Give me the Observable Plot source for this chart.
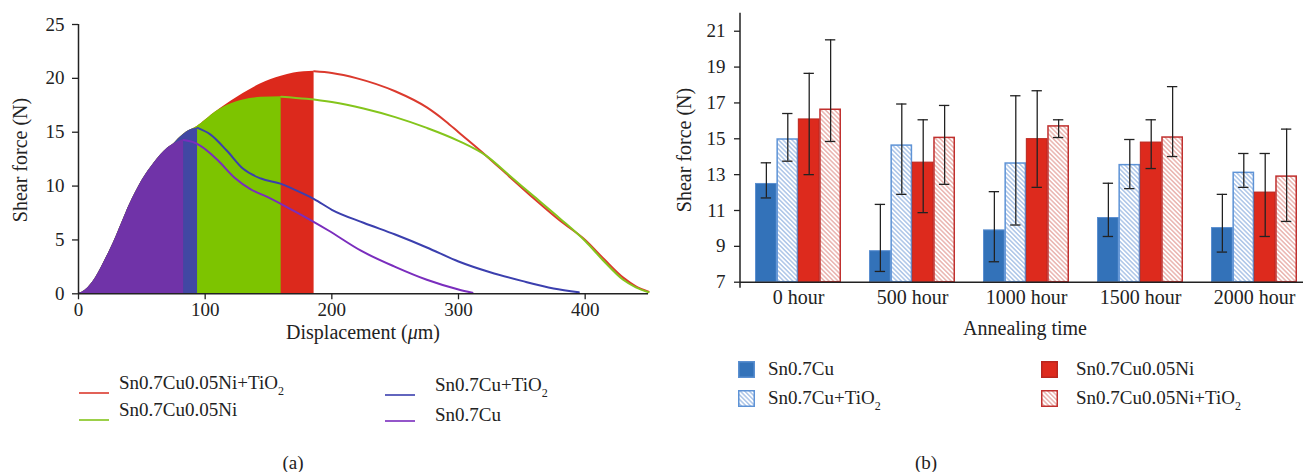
<!DOCTYPE html>
<html><head><meta charset="utf-8">
<script src="https://cdn.jsdelivr.net/npm/d3@7"></script>
<script src="https://cdn.jsdelivr.net/npm/@observablehq/plot@0.6"></script>
<style>
html,body{margin:0;padding:0;background:#fff;width:1303px;height:472px;overflow:hidden;position:relative;font-family:"Liberation Serif","DejaVu Serif",serif;color:#222}
#pa{position:absolute;left:0;top:0}
#pb{position:absolute;left:660px;top:0;width:651px}
.t{position:absolute;white-space:nowrap;font-size:19px;line-height:19px}
.t sub{font-size:12px;vertical-align:-6px;line-height:0}
.big{font-size:20px;line-height:20px}
.rot{transform:translate(-50%,-50%) rotate(-90deg)}
.ctr{transform:translate(-50%,-50%)}
.sw{position:absolute}
</style></head>
<body>
<svg width="0" height="0" style="position:absolute">
  <defs>
    <pattern id="hb" patternUnits="userSpaceOnUse" width="3.2" height="3.2" patternTransform="rotate(-45)">
      <rect width="3.2" height="3.2" fill="#fff"/>
      <line x1="0.8" y1="0" x2="0.8" y2="3.2" stroke="#8fb1df" stroke-width="1.1"/>
    </pattern>
    <pattern id="hr" patternUnits="userSpaceOnUse" width="3.2" height="3.2" patternTransform="rotate(-45)">
      <rect width="3.2" height="3.2" fill="#fff"/>
      <line x1="0.8" y1="0" x2="0.8" y2="3.2" stroke="#e39a94" stroke-width="1.1"/>
    </pattern>
  </defs>
</svg>
<div id="pa"></div>
<div id="pb"></div>
<script>
// ---------- Panel (a): shear force vs displacement ----------
const riseX = [0, 5, 10, 15, 20, 25, 30, 35, 40, 45, 50, 55, 60, 65, 70, 75];
const riseY = [0, 0.3, 0.9, 1.8, 2.9, 4.1, 5.4, 6.8, 8.2, 9.4, 10.5, 11.4, 12.2, 12.9, 13.5, 13.9];

const cuX = [...riseX, 79, 83, 90, 96, 110, 123, 136, 149, 170, 197, 223, 250, 275, 300, 311];
const cuY = [...riseY, 14.15, 14.28, 14.1, 13.76, 12.4, 10.8, 9.7, 9.0, 7.7, 5.9, 4.0, 2.5, 1.3, 0.4, 0.1];

const cuTiX = [...riseX, 80, 85, 90, 94, 104, 117, 130, 144, 160, 170, 186, 200, 225, 250, 275, 300, 325, 350, 375, 395];
const cuTiY = [...riseY, 14.5, 15.0, 15.3, 15.4, 14.8, 13.3, 11.6, 10.7, 10.2, 9.7, 8.8, 7.8, 6.6, 5.5, 4.3, 3.0, 2.0, 1.2, 0.5, 0.15];

const cuNiX = [...riseX, 80, 85, 90, 94, 100, 105, 117.5, 130, 144, 160, 180, 200, 225, 250, 275, 300, 322, 340, 360, 380, 400, 415, 430, 440, 450];
const cuNiY = [...riseY, 14.5, 15.0, 15.3, 15.55, 16.1, 16.6, 17.5, 18.0, 18.24, 18.3, 18.1, 17.8, 17.2, 16.4, 15.4, 14.2, 12.8, 11.0, 9.0, 7.0, 4.9, 3.0, 1.3, 0.6, 0.15];

const cuNiTiX = [...riseX, 80, 85, 90, 94, 100, 105, 112, 120.6, 130, 144, 160, 170, 186, 200, 220, 250, 275, 290, 300, 322, 340, 360, 380, 400, 415, 430, 440, 450];
const cuNiTiY = [...riseY, 14.5, 15.0, 15.3, 15.55, 16.1, 16.6, 17.2, 17.9, 18.6, 19.5, 20.2, 20.5, 20.65, 20.5, 20.0, 18.8, 17.3, 16.0, 15.0, 12.8, 10.9, 8.8, 6.8, 5.0, 3.2, 1.5, 0.7, 0.2];

const xTicksA = [0, 100, 200, 300, 400];
const yTicksA = [0, 5, 10, 15, 20, 25];
const xDomainA = [0, 450];

// series in drawing order (bottom layer first)
const seriesA = [
  {name: "Sn0.7Cu0.05Ni+TiO2", xs: cuNiTiX, ys: cuNiTiY, fill: "#dc291c", line: "#db3a2e"},
  {name: "Sn0.7Cu0.05Ni", xs: cuNiX, ys: cuNiY, fill: "#7dc400", line: "#84c51c"},
  {name: "Sn0.7Cu+TiO2", xs: cuTiX, ys: cuTiY, fill: "#4147a3", line: "#3b3fae"},
  {name: "Sn0.7Cu", xs: cuX, ys: cuY, fill: "#7033a8", line: "#7a2dbd"}
];

const areaMarks = [], lineMarks = [];
for (const s of seriesA) {
  const pts = s.xs.map((x, i) => ({x, y: s.ys[i]}));
  const k = d3.maxIndex(s.ys);
  areaMarks.push(Plot.areaY(pts.slice(0, k + 1), {x: "x", y: "y", fill: s.fill, curve: "monotone-x"}));
  lineMarks.push(Plot.line(pts.slice(k), {x: "x", y: "y", stroke: s.line, strokeWidth: 2, curve: "monotone-x"}));
}

const A = Plot.plot({
  width: 660, height: 340,
  marginLeft: 78, marginRight: 12, marginTop: 24, marginBottom: 46.7,
  style: {fontFamily: "Liberation Serif, serif", fontSize: "19px", color: "#222", background: "transparent", overflow: "visible"},
  x: {domain: xDomainA, label: null},
  y: {domain: [yTicksA[0], yTicksA[yTicksA.length - 1]], label: null},
  marks: [
    ...areaMarks,
    ...lineMarks,
    Plot.ruleY([0], {stroke: "#222", strokeWidth: 1.5}),
    Plot.ruleX([0], {stroke: "#222", strokeWidth: 1.5}),
    Plot.axisX({ticks: xTicksA, tickSize: 6, tickPadding: 3, label: null, fontSize: 19, stroke: "#222", strokeWidth: 1.3}),
    Plot.axisY({ticks: yTicksA, tickSize: 6, tickPadding: 8, label: null, fontSize: 19, stroke: "#222", strokeWidth: 1.3})
  ]
});
document.getElementById("pa").appendChild(A);

// ---------- Panel (b): grouped bars ----------
const times = ["0 hour", "500 hour", "1000 hour", "1500 hour", "2000 hour"];
const barSeries = ["Sn0.7Cu", "Sn0.7Cu+TiO2", "Sn0.7Cu0.05Ni", "Sn0.7Cu0.05Ni+TiO2"];
const cuVal = [12.48, 8.73, 9.89, 10.58, 10.02];
const cuLo  = [11.70, 7.60, 8.14, 9.55, 8.68];
const cuHi  = [13.66, 11.34, 12.05, 12.52, 11.90];
const cuTiVal = [14.96, 14.62, 13.62, 13.53, 13.10];
const cuTiLo  = [13.75, 11.90, 10.19, 12.22, 12.29];
const cuTiHi  = [16.41, 16.94, 17.40, 14.96, 14.18];
const cuNiVal = [16.08, 13.67, 14.98, 14.79, 12.00];
const cuNiLo  = [13.00, 10.88, 12.29, 13.34, 9.55];
const cuNiHi  = [18.65, 16.06, 17.68, 16.06, 14.18];
const cuNiTiVal = [16.62, 15.05, 15.69, 15.07, 12.89];
const cuNiTiLo  = [14.85, 12.46, 15.07, 14.01, 10.39];
const cuNiTiHi  = [20.52, 16.86, 16.06, 17.91, 15.54];
const yTicksB = [7, 9, 11, 13, 15, 17, 19, 21];
const yDomainB = [7, 22];

const barStyles = [
  {vals: cuVal, lo: cuLo, hi: cuHi, fill: "#3372b9", stroke: "#5b8fd0", sw: 1},
  {vals: cuTiVal, lo: cuTiLo, hi: cuTiHi, fill: "url(#hb)", stroke: "#5e93d6", sw: 1.5},
  {vals: cuNiVal, lo: cuNiLo, hi: cuNiHi, fill: "#dd2a1d", stroke: "#b8261e", sw: 1},
  {vals: cuNiTiVal, lo: cuNiTiLo, hi: cuNiTiHi, fill: "url(#hr)", stroke: "#c0302e", sw: 1.5}
];

const WB = 651, MLB = 80, MRB = 0, PI = 0.25, PO = 0.125;
const stepB = (WB - MLB - MRB) / (times.length - PI + 2 * PO);
const bandB = stepB * (1 - PI);
const wB = bandB / barSeries.length;
const capW = 10;

const barMarks = [], errMarks = [];
barStyles.forEach((s, i) => {
  const rows = times.map((t, j) => ({time: t, v: s.vals[j], lo: s.lo[j], hi: s.hi[j]}));
  const inL = i * wB, inR = (barSeries.length - 1 - i) * wB;
  barMarks.push(Plot.barY(rows, {x: "time", y1: () => yDomainB[0], y2: "v", fill: s.fill, stroke: s.stroke, strokeWidth: s.sw, insetLeft: inL + s.sw / 2, insetRight: inR + s.sw / 2}));
  const dx = (i - (barSeries.length - 1) / 2) * wB;
  errMarks.push(Plot.ruleX(rows, {x: "time", y1: "lo", y2: "hi", dx, stroke: "#222", strokeWidth: 1.3}));
  const cL = inL + (wB - capW) / 2, cR = inR + (wB - capW) / 2;
  errMarks.push(Plot.tickY(rows, {x: "time", y: "hi", insetLeft: cL, insetRight: cR, stroke: "#222", strokeWidth: 1.3}));
  errMarks.push(Plot.tickY(rows, {x: "time", y: "lo", insetLeft: cL, insetRight: cR, stroke: "#222", strokeWidth: 1.3}));
});

const B = Plot.plot({
  width: WB, height: 340,
  marginLeft: MLB, marginRight: MRB, marginTop: 12.8, marginBottom: 58.3,
  style: {fontFamily: "Liberation Serif, serif", fontSize: "19px", color: "#222", background: "transparent", overflow: "visible"},
  x: {domain: times, paddingInner: PI, paddingOuter: PO, label: null},
  y: {domain: yDomainB, label: null},
  marks: [
    ...barMarks,
    ...errMarks,
    Plot.ruleY([yDomainB[0]], {stroke: "#222", strokeWidth: 1.5}),
    Plot.axisX({tickSize: 0, tickPadding: 8, label: null, fontSize: 20}),
    Plot.axisY({ticks: yTicksB, tickSize: 6, tickPadding: 9, label: null, fontSize: 19, stroke: "#222", strokeWidth: 1.3})
  ]
});
// y axis line, placed with the plot's own scales
{
  const xr = B.scale("x").range, yr = B.scale("y").range;
  d3.select(B).append("line").attr("x1", xr[0]).attr("x2", xr[0]).attr("y1", yr[0] + 6).attr("y2", yr[1])
    .attr("stroke", "#222").attr("stroke-width", 1.5);
}
document.getElementById("pb").appendChild(B);

// ---------- HTML text: titles, legends, captions ----------
const add = (html, style, cls = "t") => {
  const d = document.createElement("div");
  d.className = cls; d.innerHTML = html; d.setAttribute("style", style);
  document.body.appendChild(d);
  return d;
};
add("Shear force (N)", "left:20px;top:160px", "t big rot");
add("Displacement (<i>μ</i>m)", "left:363px;top:332px", "t big ctr");
add("Shear force (N)", "left:684px;top:150px", "t big rot");
add("Annealing time", "left:1025px;top:328px", "t big ctr");
add("(a)", "left:293px;top:462px", "t ctr");
add("(b)", "left:926px;top:462px", "t ctr");

const fmt = n => n.replace("TiO2", "TiO<sub>2</sub>");
// legend (a)
const legA = [
  {s: seriesA[0], x: 79, y: 383, ty: 383},
  {s: seriesA[1], x: 79, y: 410, ty: 410},
  {s: seriesA[2], x: 385, y: 385, ty: 385},
  {s: seriesA[3], x: 385, y: 411, ty: 415}
];
for (const l of legA) {
  add(`<svg width="30" height="4"><line x1="0" x2="30" y1="2" y2="2" stroke="${l.s.line}" stroke-width="2" opacity="0.8"/></svg>`, `left:${l.x}px;top:${l.y - 2}px`, "sw");
  add(fmt(l.s.name), `left:${l.x + (l.x < 200 ? 40 : 50)}px;top:${l.ty - 10}px`);
}
// legend (b)
const legB = [
  {i: 0, x: 738, y: 369, tx: 768},
  {i: 1, x: 738, y: 398, tx: 768},
  {i: 2, x: 1041, y: 369, tx: 1076},
  {i: 3, x: 1041, y: 398, tx: 1076}
];
for (const l of legB) {
  const s = barStyles[l.i];
  add(`<svg width="17" height="17"><rect x="0.75" y="0.75" width="15.5" height="15.5" fill="${s.fill}" stroke="${s.stroke}" stroke-width="1.5"/></svg>`, `left:${l.x}px;top:${l.y - 8}px`, "sw");
  add(fmt(barSeries[l.i]), `left:${l.tx}px;top:${l.y - 10}px`);
}
</script>
</body></html>
